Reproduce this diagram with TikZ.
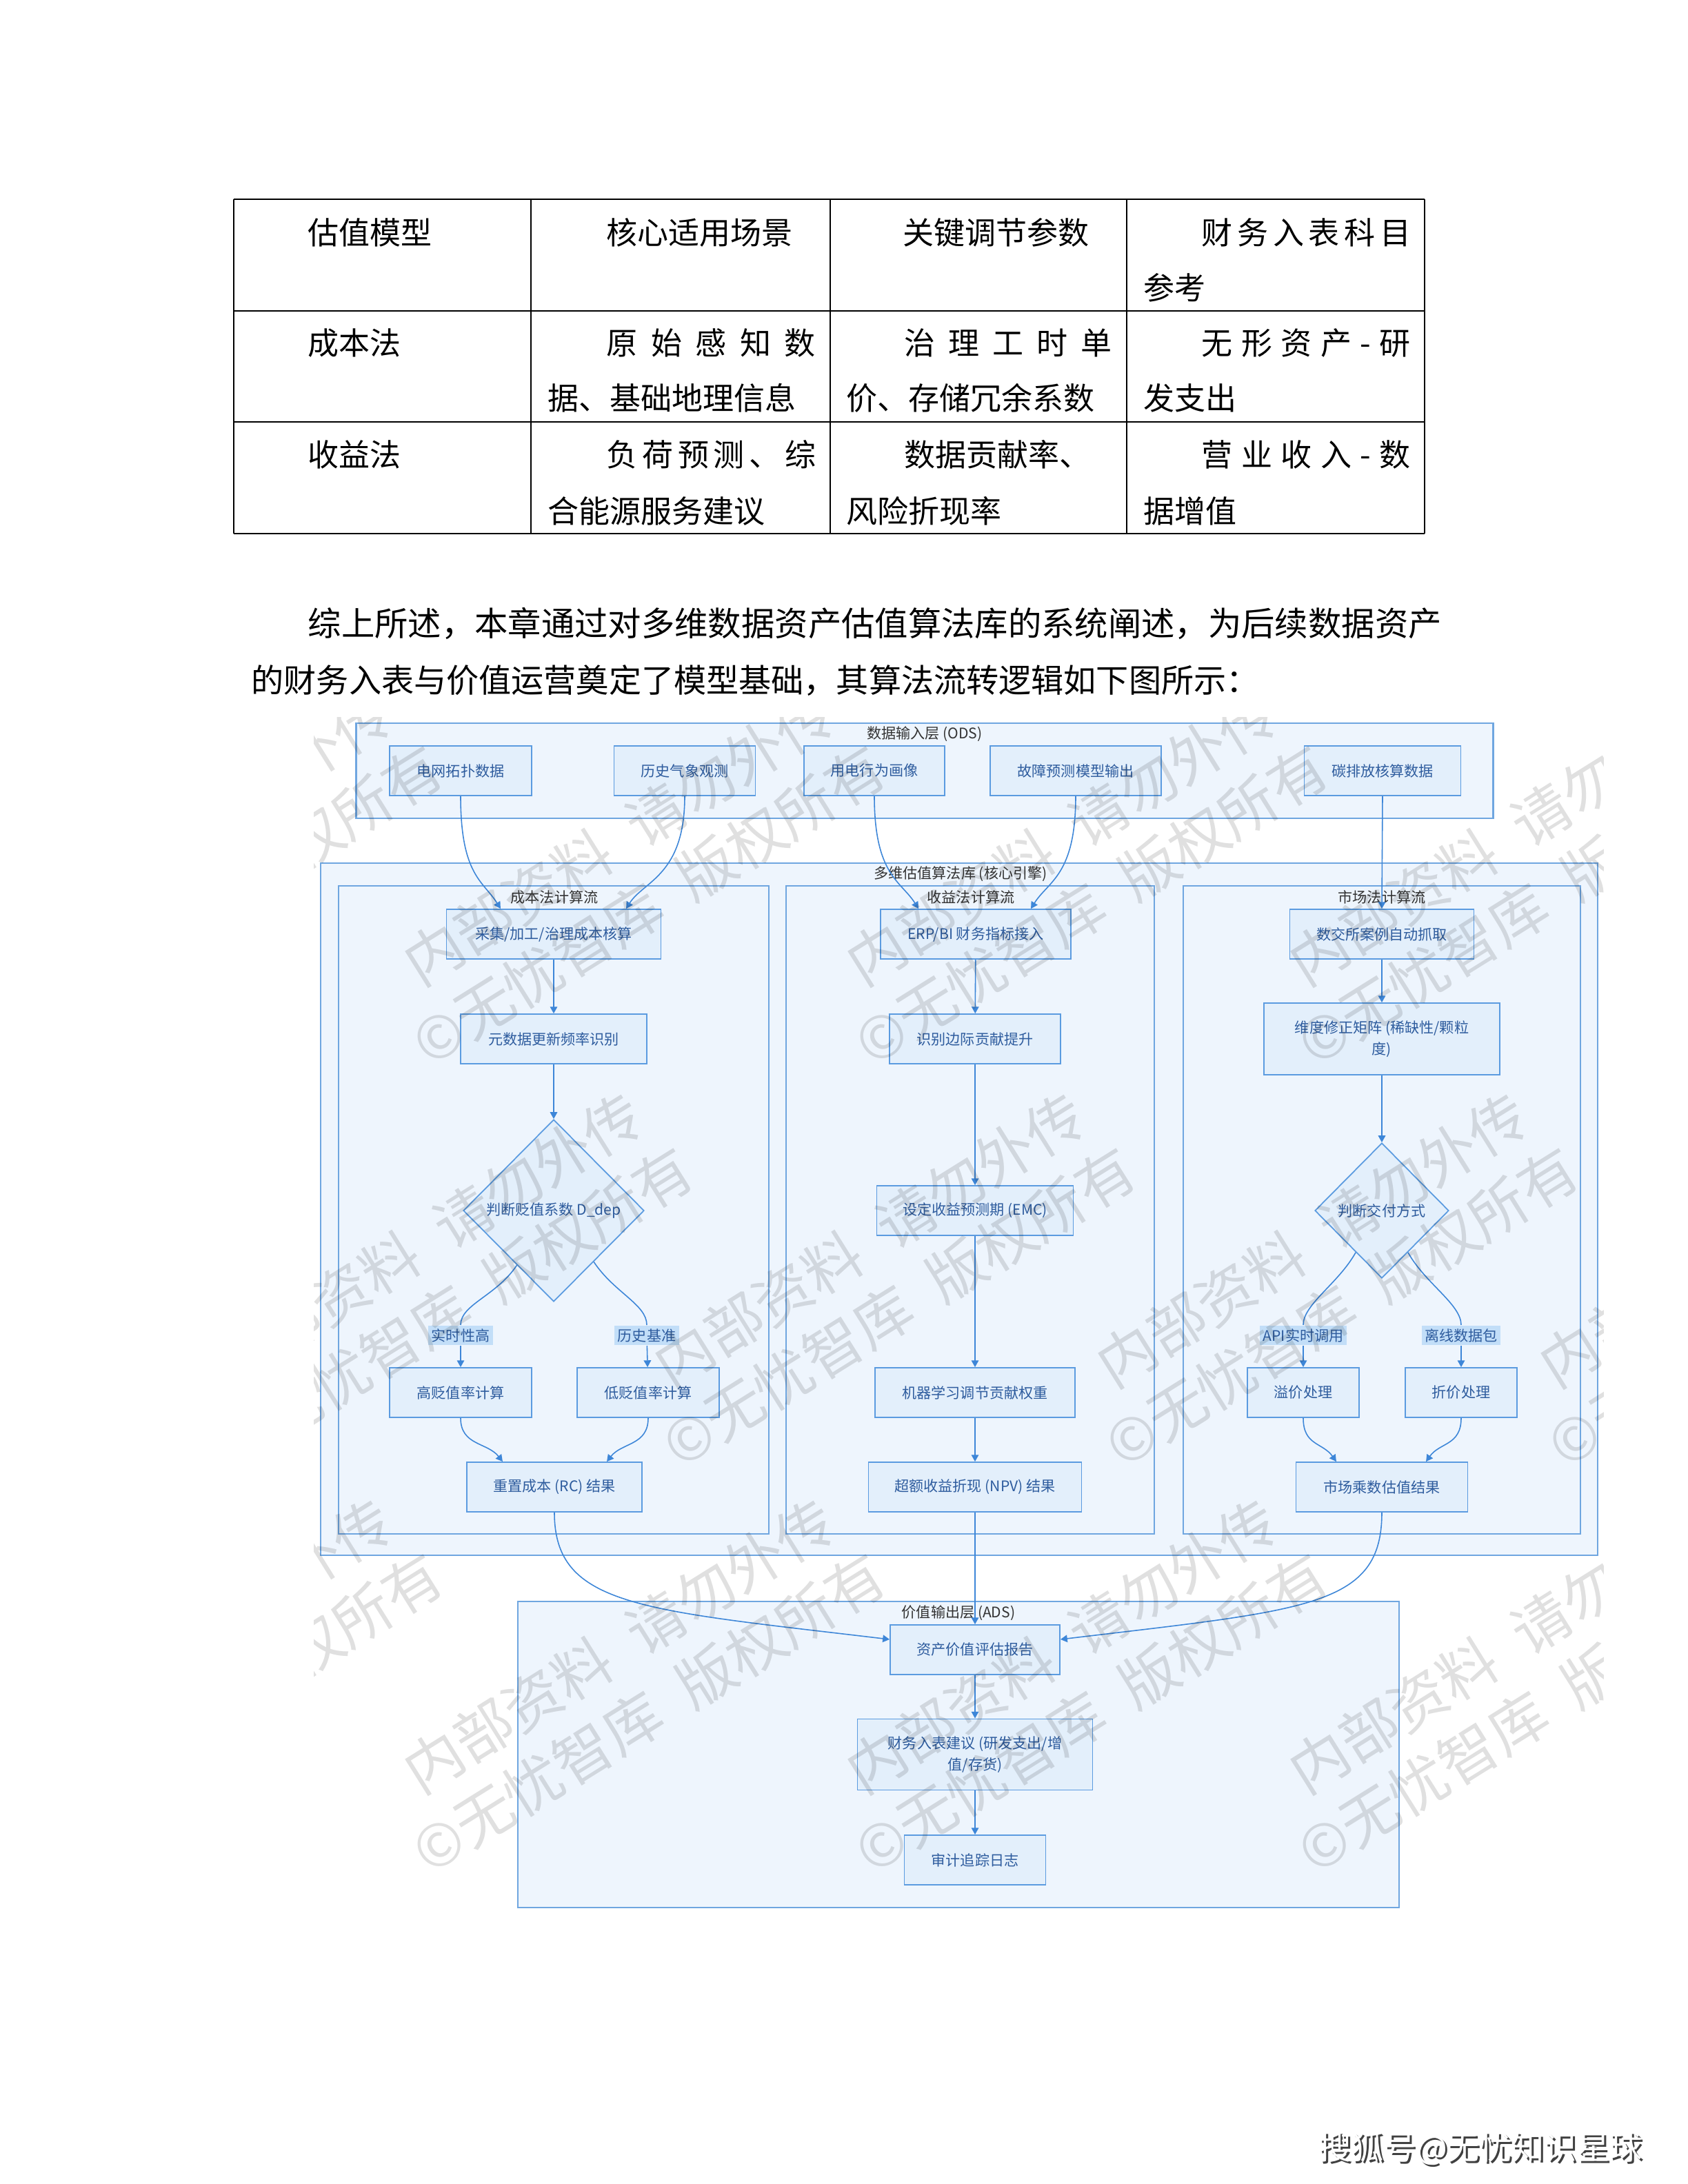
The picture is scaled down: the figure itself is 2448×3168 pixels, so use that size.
\documentclass[tikz,border=0pt]{standalone}
\usepackage{fontspec}
\setmainfont{Noto Sans CJK SC}
\usepackage{tikz}
\usetikzlibrary{arrows.meta, shapes.geometric}
\definecolor{flowBlue}{HTML}{3D86D8}
\definecolor{boxEdge}{HTML}{5B9BE0}
\definecolor{boxFill}{HTML}{E3EFFB}
\definecolor{layerEdge}{HTML}{6FA6E0}
\definecolor{layerFill}{HTML}{EEF5FD}
\definecolor{boxText}{HTML}{2E5C9E}
\definecolor{titleInk}{HTML}{333333}
\definecolor{tagFill}{HTML}{C2DEF8}
\newcommand{\chartfont}{\fontsize{6pt}{8.7pt}\selectfont}
\newcommand{\tablefont}{\fontsize{12.8pt}{16pt}\selectfont}
\newcommand{\bodyfont}{\fontsize{13.4pt}{16pt}\selectfont}
\newcommand{\wideBodyfont}{\fontsize{13.75pt}{16pt}\selectfont}
\newcommand{\markfont}{\fontsize{13.4pt}{16pt}\selectfont}
\newcommand{\wmfont}{\fontsize{24pt}{28pt}\selectfont}

\begin{document}
\begin{tikzpicture}[x=0.01cm, y=-0.01cm,
  proc/.style={draw=boxEdge, line width=0.5pt, fill=boxFill, text=boxText,
               font=\chartfont, minimum height=0.72cm, inner sep=0pt, align=center},
  judge/.style={diamond, aspect=1, draw=boxEdge, line width=0.5pt, fill=boxFill,
                text=boxText, font=\chartfont, inner sep=0pt},
  layer/.style={draw=layerEdge, line width=0.6pt, fill=layerFill, inner sep=0pt},
  ttl/.style={font=\chartfont, text=titleInk, inner sep=0pt},
  tag/.style={fill=tagFill, text=boxText, font=\chartfont, inner sep=1.3pt},
  arr/.style={draw=flowBlue, line width=0.45pt, -{Triangle[length=2.8pt, width=3pt]}},
  link/.style={draw=flowBlue, line width=0.45pt},
  cell/.style={font=\tablefont, anchor=base west, inner sep=0pt},
  para/.style={font=\bodyfont, anchor=base west, inner sep=0pt},
  wm/.style={font=\wmfont, text=black, text opacity=0.12, anchor=base west, inner sep=0pt},
  rule/.style={line width=0.6pt}
]
\fill[white] (0,0) rectangle (2448,3168);
\useasboundingbox (0,0) rectangle (2448,3168);

% table
\foreach \tx in {339,770,1204,1634,2066} \draw[rule] (\tx,289) -- (\tx,774);
\foreach \ty in {289,451,612,774} \draw[rule] (339,\ty) -- (2066,\ty);
\node[cell] (hModel) at (446,354) {估值模型};
\node[cell] (hScene) at (879,354) {核心适用场景};
\node[cell] (hParam) at (1309,354) {关键调节参数};
\node[cell] (hAcctA) at (1742,354) {\makebox[3.03cm][s]{财 务 入 表 科 目}};
\node[cell] (hAcctB) at (1658,434) {参考};
\node[cell] (costName) at (446,514) {成本法};
\node[cell] (costSceneA) at (879,514) {\makebox[3.03cm][s]{原 始 感 知 数}};
\node[cell] (costSceneB) at (794,594) {据、基础地理信息};
\node[cell] (costParamA) at (1311,514) {\makebox[3.01cm][s]{治 理 工 时 单}};
\node[cell] (costParamB) at (1227,594) {价、存储冗余系数};
\node[cell] (costAcctA) at (1742,514) {\makebox[3.03cm][s]{无 形 资 产 - 研}};
\node[cell] (costAcctB) at (1658,594) {发支出};
\node[cell] (incName) at (446,676) {收益法};
\node[cell] (incSceneA) at (879,676) {\makebox[3.03cm][s]{负 荷 预 测 、 综}};
\node[cell] (incSceneB) at (794,758) {合能源服务建议};
\node[cell] (incParamA) at (1311,676) {数据贡献率、};
\node[cell] (incParamB) at (1227,758) {风险折现率};
\node[cell] (incAcctA) at (1742,676) {\makebox[3.03cm][s]{营 业 收 入 - 数}};
\node[cell] (incAcctB) at (1658,758) {据增值};

\node[para, font=\wideBodyfont] (paraA) at (446,922) {综上所述，本章通过对多维数据资产估值算法库的系统阐述，为后续数据资产};
\node[para] (paraB) at (364,1004) {的财务入表与价值运营奠定了模型基础，其算法流转逻辑如下图所示：};

% layers
\node[layer, minimum width=16.48cm, minimum height=1.38cm] (ods) at (1341,1118) {};
\node[ttl] (odsTitle) at (1341,1065) {数据输入层 (ODS)};
\node[layer, minimum width=18.51cm, minimum height=10.03cm] (core) at (1391,1754) {};
\node[ttl] (coreTitle) at (1393,1268) {多维估值算法库 (核心引擎)};
\node[layer, minimum width=6.23cm, minimum height=9.39cm] (costFlow) at (803,1755) {};
\node[ttl] (costTitle) at (804,1301) {成本法计算流};
\node[layer, minimum width=5.33cm, minimum height=9.39cm] (incFlow) at (1407,1755) {};
\node[ttl] (incTitle) at (1408,1301) {收益法计算流};
\node[layer, minimum width=5.75cm, minimum height=9.39cm] (mktFlow) at (2004,1755) {};
\node[ttl] (mktTitle) at (2004,1301) {市场法计算流};
\node[layer, minimum width=12.78cm, minimum height=4.44cm] (ads) at (1390,2545) {};
\node[ttl] (adsTitle) at (1390,2340) {价值输出层 (ADS)};

% input nodes
\node[proc, minimum width=2.06cm] (inGrid) at (668,1118) {电网拓扑数据};
\node[proc, minimum width=2.05cm] (inWeather) at (993,1118) {历史气象观测};
\node[proc, minimum width=2.04cm] (inUser) at (1268,1118) {用电行为画像};
\node[proc, minimum width=2.48cm] (inFault) at (1560,1118) {故障预测模型输出};
\node[proc, minimum width=2.27cm] (inCarbon) at (2005,1118) {碳排放核算数据};

% cost flow
\node[proc, minimum width=3.11cm] (costCollect) at (803,1355) {采集/加工/治理成本核算};
\node[proc, minimum width=2.70cm] (costMeta) at (803,1507) {元数据更新频率识别};
\node[judge, minimum width=2.62cm, minimum height=2.64cm] (costJudge) at (803,1756) {判断贬值系数 D\_dep};
\node[tag] (tagFast) at (668,1937) {实时性高};
\node[tag] (tagHist) at (938,1937) {历史基准};
\node[proc, minimum width=2.06cm] (costHigh) at (668,2020) {高贬值率计算};
\node[proc, minimum width=2.06cm] (costLow) at (940,2020) {低贬值率计算};
\node[proc, minimum width=2.54cm] (costRC) at (804,2157) {重置成本 (RC) 结果};

% income flow
\node[proc, minimum width=2.76cm] (incERP) at (1415,1355) {ERP/BI 财务指标接入};
\node[proc, minimum width=2.48cm] (incMarg) at (1414,1507) {识别边际贡献提升};
\node[proc, minimum width=2.85cm] (incEMC) at (1414,1756) {设定收益预测期 (EMC)};
\node[proc, minimum width=2.90cm] (incML) at (1414,2020) {机器学习调节贡献权重};
\node[proc, minimum width=3.09cm] (incNPV) at (1414,2157) {超额收益折现 (NPV) 结果};

% market flow
\node[proc, minimum width=2.67cm] (mktCase) at (2004,1355) {数交所案例自动抓取};
\node[proc, minimum width=3.42cm, minimum height=1.04cm] (mktMatrix) at (2004,1507) {维度修正矩阵 (稀缺性/颗粒\\度)};
\node[judge, minimum width=1.94cm, minimum height=1.96cm] (mktJudge) at (2004,1756) {判断交付方式};
\node[tag] (tagAPI) at (1890,1937) {API实时调用};
\node[tag] (tagOff) at (2119,1937) {离线数据包};
\node[proc, minimum width=1.62cm] (mktPrem) at (1890,2020) {溢价处理};
\node[proc, minimum width=1.62cm] (mktDisc) at (2119,2020) {折价处理};
\node[proc, minimum width=2.49cm] (mktResult) at (2004,2157) {市场乘数估值结果};

% output nodes
\node[proc, minimum width=2.46cm] (outReport) at (1414,2393) {资产价值评估报告};
\node[proc, minimum width=3.41cm, minimum height=1.03cm] (outFin) at (1414,2545) {财务入表建议 (研发支出/增\\值/存货)};
\node[proc, minimum width=2.05cm] (outAudit) at (1414,2698) {审计追踪日志};

% connectors
\draw[arr] (inGrid.south) .. controls +(0,115) and +(-25,-40) .. ([xshift=-0.77cm]costCollect.north);
\draw[arr] (inWeather.south) .. controls +(0,115) and +(25,-40) .. ([xshift=1.05cm]costCollect.north);
\draw[arr] (inUser.south) .. controls +(0,115) and +(-25,-40) .. ([xshift=-0.83cm]incERP.north);
\draw[arr] (inFault.south) .. controls +(0,115) and +(25,-40) .. ([xshift=0.80cm]incERP.north);
\draw[arr] (inCarbon.south) -- (mktCase.north);

\draw[arr] (costCollect) -- (costMeta);
\draw[arr] (costMeta) -- (costJudge);
\draw[link] (costJudge.236) .. controls +(-30,45) and +(0,-30) .. (tagFast.north);
\draw[link] (costJudge.-52) .. controls +(30,45) and +(0,-30) .. (tagHist.north);
\draw[arr] (tagFast) -- (costHigh);
\draw[arr] (tagHist) -- (costLow);
\draw[arr] (costHigh.south) .. controls +(0,40) and +(-22,-28) .. ([xshift=-0.75cm]costRC.north);
\draw[arr] (costLow.south) .. controls +(0,40) and +(22,-28) .. ([xshift=0.76cm]costRC.north);

\draw[arr] (incERP) -- (incMarg);
\draw[arr] (incMarg) -- (incEMC);
\draw[arr] (incEMC) -- (incML);
\draw[arr] (incML) -- (incNPV);

\draw[arr] (mktCase) -- (mktMatrix);
\draw[arr] (mktMatrix) -- (mktJudge);
\draw[link] (mktJudge.238) .. controls +(-25,45) and +(0,-30) .. (tagAPI.north);
\draw[link] (mktJudge.-58) .. controls +(25,45) and +(0,-30) .. (tagOff.north);
\draw[arr] (tagAPI) -- (mktPrem);
\draw[arr] (tagOff) -- (mktDisc);
\draw[arr] (mktPrem.south) .. controls +(0,40) and +(-20,-28) .. ([xshift=-0.66cm]mktResult.north);
\draw[arr] (mktDisc.south) .. controls +(0,40) and +(20,-28) .. ([xshift=0.64cm]mktResult.north);

\draw[arr] (costRC.south) .. controls +(0,137) and +(-360,-43) .. ([yshift=0.15cm]outReport.west);
\draw[arr] (incNPV) -- (outReport);
\draw[arr] (mktResult.south) .. controls +(0,137) and +(360,-43) .. ([yshift=0.15cm]outReport.east);
\draw[arr] (outReport) -- (outFin);
\draw[arr] (outFin) -- (outAudit);

% watermark
\begin{scope}
\clip (455,1040) rectangle (2325,2777);
\foreach \wx/\wy [count=\k] in {-32/1433, 610/1433, 1252/1433, 1894/1433,
    331/2016, 973/2016, 1615/2016, 2257/2016,
    -32/2605, 610/2605, 1252/2605, 1894/2605}{
  \begin{scope}[shift={(\wx,\wy)}, rotate=32, transform shape]
    \node[wm] (wmA\k) at (0,0) {内部资料\hspace{0.5em}请勿外传};
    \node[wm] (wmB\k) at (-50,105) {©无忧智库\hspace{0.5em}版权所有};
  \end{scope}
}
\end{scope}

\node[font=\markfont, text=black!75, inner sep=0pt] (sohuShade) at (2150,3120) {搜狐号@无忧知识星球};
\node[font=\markfont, text=white, inner sep=0pt] (sohu) at (2147,3117) {搜狐号@无忧知识星球};
\end{tikzpicture}
\end{document}
